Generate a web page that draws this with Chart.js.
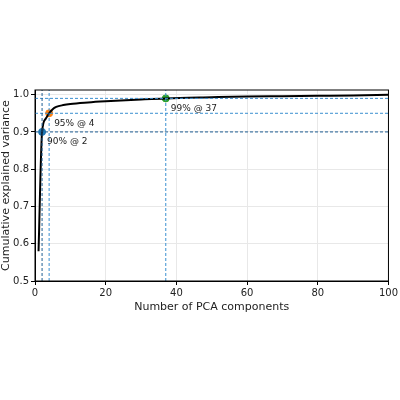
<!DOCTYPE html><html><head><script src="https://cdn.jsdelivr.net/npm/chart.js@4"></script>
<style>body{margin:0;background:#fff}#w{width:400px;height:400px}</style></head><body><div id="w"><canvas id="c"></canvas></div>
<script>
const comps=[1,2,3,4,5,6,8,10,15,20,30,37,50,60,70,80,90,100];
const cumVar=[0.58,0.90,0.935,0.95,0.961,0.967,0.972,0.975,0.979,0.982,0.987,0.99,0.993,0.995,0.996,0.997,0.998,0.9995];
const thrLabels=['90% @ 2','95% @ 4','99% @ 37'];
const thrX=[2,4,37];
const thrY=[0.90,0.95,0.99];
const thrColors=['#1f77b4','#ff7f0e','#2ca02c'];
const yTicks=[0.5,0.6,0.7,0.8,0.9,1.0];
const lineC=['#1f5f94','#3a8fd0','#3a8fd0'];
const ds=[];
thrX.forEach((x,i)=>{
 ds.push({data:[{x:x,y:0.5},{x:x,y:1.0125}],borderColor:lineC[i],borderWidth:1,borderDash:[3,2],pointRadius:0});
 ds.push({data:[{x:0,y:thrY[i]},{x:100,y:thrY[i]}],borderColor:lineC[i],borderWidth:1,borderDash:[3,2],pointRadius:0});
});
ds.push({data:comps.map((c,i)=>({x:c,y:cumVar[i]})),borderColor:'#000',borderWidth:2,pointRadius:0,cubicInterpolationMode:'monotone'});
ds.push({data:thrX.map((x,i)=>({x:x,y:thrY[i]})),pointBackgroundColor:thrColors,pointBorderColor:thrColors,pointRadius:3.5,showLine:false});
const lbl={id:'lbl',afterDatasetsDraw(ch){const c=ch.ctx,xs=ch.scales.x,ys=ch.scales.y;c.save();c.font='9px "DejaVu Sans"';c.fillStyle='#222';c.textBaseline='middle';
thrX.forEach((x,i)=>c.fillText(thrLabels[i],xs.getPixelForValue(x)+5,ys.getPixelForValue(thrY[i])+10));
const a=ch.chartArea;c.strokeStyle='#000';c.lineWidth=1;c.strokeRect(a.left,a.top,a.right-a.left,a.bottom-a.top);c.restore();}};
Chart.defaults.font.family='"DejaVu Sans"';Chart.defaults.color='#222';
new Chart(document.getElementById('c'),{type:'line',data:{datasets:ds},plugins:[lbl],options:{animation:false,responsive:true,maintainAspectRatio:false,
layout:{padding:{top:90,right:10,left:0,bottom:86}},
plugins:{legend:{display:false},tooltip:{enabled:false}},
scales:{x:{type:'linear',min:0,max:100,ticks:{stepSize:20,font:{size:10},padding:2},grid:{color:'#e8e8e8',tickLength:4,tickColor:'#000'},border:{color:'#000'},
 title:{display:true,text:'Number of PCA components',font:{size:11},padding:{top:2,bottom:0}},afterFit(s){s.height=33;}},
 y:{min:0.5,max:1.0125,afterBuildTicks(s){s.ticks=yTicks.map(v=>({value:v}));},ticks:{font:{size:10},padding:2,callback:v=>v===1?'1.0':String(v)},grid:{color:'#e8e8e8',tickLength:4,tickColor:'#000'},border:{color:'#000'},
 title:{display:true,text:'Cumulative explained variance',font:{size:11},padding:0},afterFit(s){s.width=35;}}}}});
</script></body></html>
